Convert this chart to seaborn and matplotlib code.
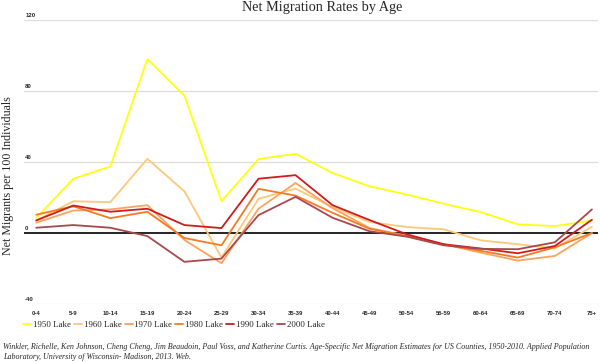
import numpy as np
import pandas as pd
import seaborn as sns
import matplotlib.pyplot as plt
import matplotlib.transforms as mtransforms

ages = ['0-4', '5-9', '10-14', '15-19', '20-24', '25-29', '30-34', '35-39',
        '40-44', '45-49', '50-54', '55-59', '60-64', '65-69', '70-74', '75+']

lake_1950 = [8.5, 30.6, 37.5, 98, 77.3, 17.9, 41.7, 44.6, 33.8, 26.3, 21.7, 16.5, 11.8, 4.9, 3.9, 7.1]
lake_1960 = [7, 17.9, 17.4, 41.8, 23.5, -13.8, 19.3, 25, 14.6, 6.2, 3.4, 2.1, -4.1, -6.3, -8.7, 3.6]
lake_1970 = [5.8, 12.7, 13.3, 15.7, -3.9, -17, 13.7, 28.2, 14, 2.8, -1.5, -6.3, -11, -15.5, -12.9, 0]
lake_1980 = [10.3, 15.1, 8.4, 12, -2.8, -6.9, 24.9, 21.1, 11.4, 2.4, -1.7, -6.5, -10, -13.8, -8, 0]
lake_1990 = [7.1, 15.5, 12, 13.7, 4.5, 2.8, 30.6, 32.6, 15.7, 7.3, -0.7, -6.3, -8.7, -11.4, -7.3, 7.5]
lake_2000 = [3, 4.5, 3, -1.7, -16.2, -14.4, 10.1, 20.4, 8.6, 1, -2, -6.9, -8.9, -9.1, -5.2, 13.3]

series_names = ['1950 Lake', '1960 Lake', '1970 Lake', '1980 Lake', '1990 Lake', '2000 Lake']
series_values = [lake_1950, lake_1960, lake_1970, lake_1980, lake_1990, lake_2000]
colors = ['#FFFF10', '#FDC877', '#FCA35E', '#F57A22', '#CF1B1B', '#A8484B']
yticks = [-40, 0, 40, 80, 120]

rows = []
for name, vals in zip(series_names, series_values):
    for a, v in zip(ages, vals):
        rows.append({'age': a, 'rate': v, 'series': name})
df = pd.DataFrame(rows)

sns.set_style('white')
plt.rcParams['font.family'] = ['Liberation Serif', 'DejaVu Serif']

fig = plt.figure(figsize=(6, 3.62), dpi=100)
ax = fig.add_axes([0.04, 0.160, 0.957, 0.7848])

for y in yticks:
    if y == 0:
        continue
    ax.axhline(y, color='#dcdcdc', lw=0.9, zorder=0)
ax.axhline(0, color='black', lw=1.2, zorder=1)

sns.lineplot(data=df, x='age', y='rate', hue='series', palette=colors,
             sort=False, lw=1.3, ax=ax, legend=True, zorder=3)

ax.set_ylim(-40, 120)
ax.set_xlim(-0.33, 15.17)
ax.set_yticks([])
ax.set_xlabel('')
ax.set_ylabel('')
for s in ax.spines.values():
    s.set_visible(False)
ax.tick_params(axis='x', length=0, pad=5)
for lab in ax.get_xticklabels():
    lab.set_fontfamily('Liberation Sans')
    lab.set_fontweight('bold')
    lab.set_fontsize(4.3)

trans = mtransforms.blended_transform_factory(ax.transAxes, ax.transData)
for y in yticks:
    ax.text(0.002, y + 1.2, str(y), transform=trans, fontsize=4.3,
            fontfamily='Liberation Sans', fontweight='bold', va='bottom', ha='left')

fig.text(0.014, 0.514, 'Net Migrants per 100 Individuals', rotation=90,
         fontsize=8.6, va='center', ha='center')
fig.suptitle('Net Migration Rates by Age', x=0.537, y=0.997, fontsize=10.3, va='top')

handles, labels = ax.get_legend_handles_labels()
leg = ax.legend(handles, labels, loc='upper left', bbox_to_anchor=(-0.002, -0.058),
                ncol=6, frameon=False, fontsize=6.4, handlelength=0.9,
                handletextpad=0.2, columnspacing=0.35, borderaxespad=0, borderpad=0)

fig.text(0.005, 0.027,
         'Winkler, Richelle, Ken Johnson, Cheng Cheng, Jim Beaudoin, Paul Voss, and Katherine Curtis. '
         'Age-Specific Net Migration Estimates for US Counties, 1950-2010. Applied Population\n'
         'Laboratory, University of Wisconsin- Madison, 2013. Web.',
         fontsize=5.8, style='italic', va='center', ha='left', linespacing=1.25)

fig.savefig('out.png', dpi=100)
